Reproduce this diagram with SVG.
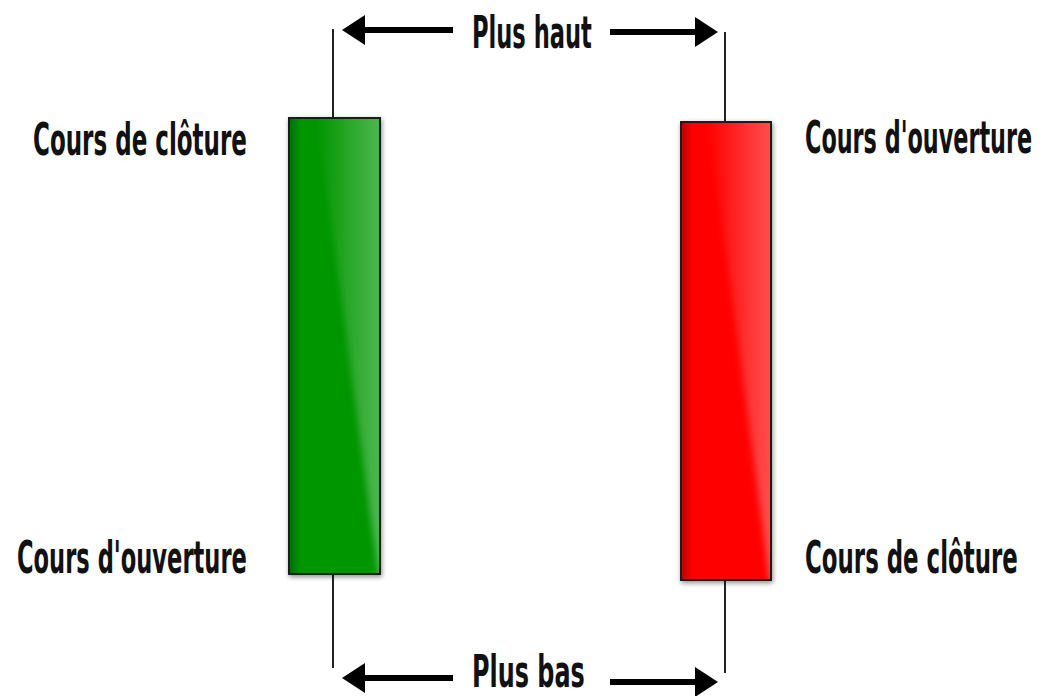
<svg xmlns="http://www.w3.org/2000/svg" width="1045" height="696" viewBox="0 0 1045 696">
  <defs>
    <style>
      .lbl { font-family: "DejaVu Sans Condensed", "DejaVu Sans", "Liberation Sans", sans-serif; font-weight: bold; font-size: 44px; fill: #111; }
      .wick { stroke: #222; stroke-width: 2; fill: none; }
      .shaft { stroke: #000; stroke-width: 6; fill: none; }
      .head { fill: #000; }
      .body { stroke: #1a1a1a; stroke-width: 2; filter: url(#shadow); }
    </style>
    <filter id="shadow" x="-20%" y="-5%" width="140%" height="110%">
      <feGaussianBlur in="SourceAlpha" stdDeviation="2.5"/>
      <feOffset dx="1" dy="2" result="b"/>
      <feComponentTransfer><feFuncA type="linear" slope="0.45"/></feComponentTransfer>
      <feMerge><feMergeNode/><feMergeNode in="SourceGraphic"/></feMerge>
    </filter>
    <filter id="soft"><feGaussianBlur stdDeviation="0.6"/></filter>
    <filter id="glow" x="-20%" y="-5%" width="140%" height="110%"><feGaussianBlur stdDeviation="3"/></filter>
    <clipPath id="clipG"><rect x="290" y="119" width="89" height="454"/></clipPath>
    <clipPath id="clipR"><rect x="682" y="123" width="88" height="456"/></clipPath>
    <linearGradient id="gloss" x1="0" y1="0" x2="1" y2="0">
      <stop offset="0" stop-color="#fff" stop-opacity="0"/>
      <stop offset="1" stop-color="#fff" stop-opacity="0.38"/>
    </linearGradient>
    <linearGradient id="edge" x1="0" y1="0" x2="1" y2="0">
      <stop offset="0" stop-color="#000" stop-opacity="0.25"/>
      <stop offset="0.12" stop-color="#000" stop-opacity="0"/>
    </linearGradient>
  </defs>

  <rect width="1045" height="696" fill="#fff"/>

  <!-- range arrows and wicks -->
  <g id="connectors" filter="url(#soft)">
    <line class="wick" x1="333" y1="29" x2="333" y2="118"/>
    <line class="wick" x1="333" y1="574" x2="333" y2="668"/>
    <line class="wick" x1="725" y1="32" x2="725" y2="122"/>
    <line class="wick" x1="725" y1="580" x2="725" y2="673"/>

    <line class="shaft" x1="360" y1="30" x2="453" y2="30"/>
    <polygon class="head" points="342,30 365,15 365,45"/>
    <line class="shaft" x1="610" y1="32" x2="700" y2="32"/>
    <polygon class="head" points="718,32 695,17 695,47"/>

    <line class="shaft" x1="360" y1="678" x2="453" y2="678"/>
    <polygon class="head" points="342,678 365,663 365,693"/>
    <line class="shaft" x1="610" y1="682" x2="700" y2="682"/>
    <polygon class="head" points="718,682 695,667 695,697"/>
  </g>

  <!-- bullish candle -->
  <g id="candle-green">
    <rect class="body" x="289" y="118" width="91" height="456" fill="#009600"/>
    <g clip-path="url(#clipG)">
      <polygon points="316,110 395,110 395,580 379,580" fill="url(#gloss)" filter="url(#glow)"/>
    </g>
    <rect x="290" y="119" width="89" height="454" fill="url(#edge)"/>
  </g>

  <!-- bearish candle -->
  <g id="candle-red">
    <rect class="body" x="681" y="122" width="90" height="458" fill="#ff0000"/>
    <g clip-path="url(#clipR)">
      <polygon points="708,114 786,114 786,586 770,586" fill="url(#gloss)" filter="url(#glow)"/>
    </g>
    <rect x="682" y="123" width="88" height="456" fill="url(#edge)"/>
  </g>

  <!-- labels: condensed by a horizontal scale of 0.55 -->
  <g id="label-high"><text class="lbl" transform="translate(472,48) scale(0.55,1)" textLength="218" lengthAdjust="spacingAndGlyphs">Plus haut</text></g>
  <g id="label-low"><text class="lbl" transform="translate(472,687) scale(0.55,1)" textLength="205" lengthAdjust="spacingAndGlyphs">Plus bas</text></g>
  <g id="label-green-close"><text class="lbl" transform="translate(33,155) scale(0.55,1)" textLength="389" lengthAdjust="spacingAndGlyphs">Cours de clôture</text></g>
  <g id="label-green-open"><text class="lbl" transform="translate(17,573) scale(0.55,1)" textLength="418" lengthAdjust="spacingAndGlyphs">Cours d'ouverture</text></g>
  <g id="label-red-open"><text class="lbl" transform="translate(805,153) scale(0.55,1)" textLength="413" lengthAdjust="spacingAndGlyphs">Cours d'ouverture</text></g>
  <g id="label-red-close"><text class="lbl" transform="translate(805,573) scale(0.55,1)" textLength="387" lengthAdjust="spacingAndGlyphs">Cours de clôture</text></g>
</svg>
